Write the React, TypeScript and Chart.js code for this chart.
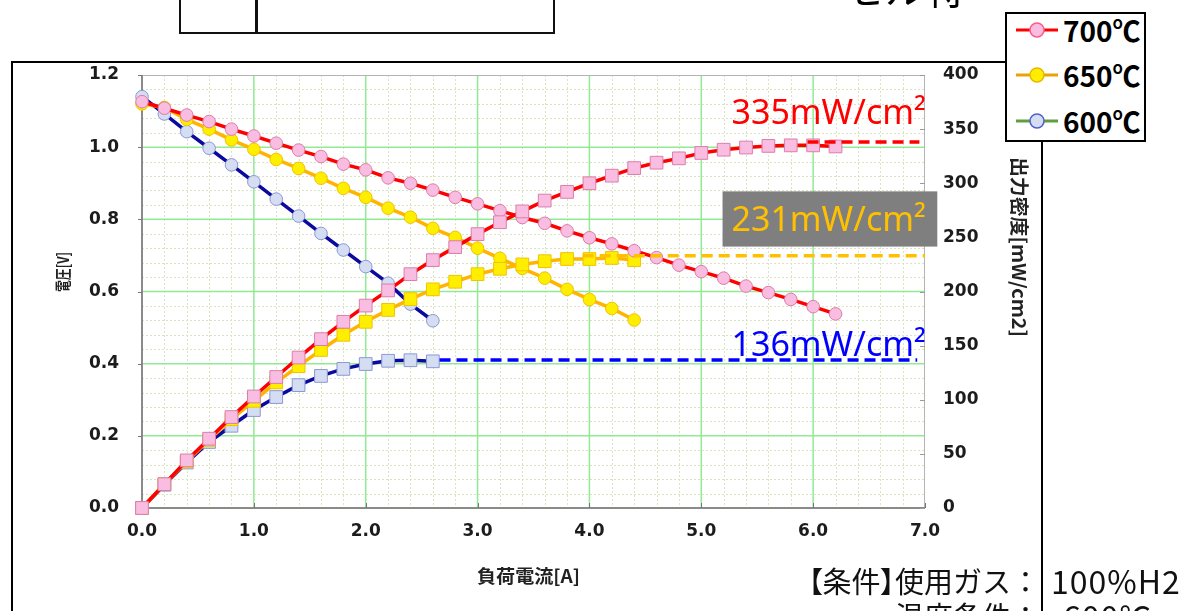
import React, { useEffect, useRef } from "react";
import { Chart, registerables } from "chart.js";

Chart.register(...registerables);

// ---------- data ----------
const current700 = [0.0, 0.2, 0.4, 0.6, 0.8, 1.0, 1.2, 1.4, 1.6, 1.8, 2.0, 2.2, 2.4, 2.6, 2.8, 3.0, 3.2, 3.4, 3.6, 3.8, 4.0, 4.2, 4.4, 4.6, 4.8, 5.0, 5.2, 5.4, 5.6, 5.8, 6.0, 6.2];
const voltage700 = [1.126, 1.108, 1.089, 1.071, 1.050, 1.031, 1.011, 0.992, 0.974, 0.953, 0.937, 0.915, 0.900, 0.881, 0.861, 0.843, 0.824, 0.805, 0.789, 0.768, 0.749, 0.732, 0.713, 0.694, 0.673, 0.655, 0.637, 0.615, 0.597, 0.578, 0.558, 0.538];
const power700 = [0, 22, 44, 64, 84, 103, 121, 139, 156, 172, 187, 201, 216, 229, 241, 253, 264, 274, 284, 292, 300, 307, 314, 319, 323, 328, 331, 333, 334.5, 335, 335, 334];

const current650 = [0.0, 0.2, 0.4, 0.6, 0.8, 1.0, 1.2, 1.4, 1.6, 1.8, 2.0, 2.2, 2.4, 2.6, 2.8, 3.0, 3.2, 3.4, 3.6, 3.8, 4.0, 4.2, 4.4];
const voltage650 = [1.120, 1.110, 1.077, 1.050, 1.020, 0.994, 0.966, 0.941, 0.914, 0.886, 0.861, 0.831, 0.806, 0.775, 0.750, 0.720, 0.692, 0.664, 0.637, 0.606, 0.578, 0.553, 0.521];
const power650 = [0, 22, 43, 63, 82, 99, 116, 131, 146, 160, 172, 183, 193, 202, 209, 216, 221, 225, 228, 230, 230, 231, 229];

const current600 = [0.0, 0.2, 0.4, 0.6, 0.8, 1.0, 1.2, 1.4, 1.6, 1.8, 2.0, 2.2, 2.4, 2.6];
const voltage600 = [1.140, 1.092, 1.043, 0.997, 0.951, 0.904, 0.856, 0.809, 0.761, 0.715, 0.669, 0.623, 0.565, 0.519];
const power600 = [0, 21.5, 42, 61, 76, 90.5, 102.5, 113.5, 122, 128.5, 133, 136, 136.5, 135.5];

// peak power guide lines and their labels
const peakLabels = ["335mW/cm²", "231mW/cm²", "136mW/cm²"];
const peakLevels = [338, 233, 136.7];
const peakLineFrom = [5.95, 3.94, 2.66];
const peakLineTo = [6.95, 7.0, 6.93];

const legendLabels = ["700℃", "650℃", "600℃"];

const xTickValues = [0, 1, 2, 3, 4, 5, 6, 7];
const yTickValues = [0, 0.2, 0.4, 0.6, 0.8, 1.0, 1.2];
const y1TickValues = [0, 50, 100, 150, 200, 250, 300, 350, 400];

const xTitle = "負荷電流[A]";
const yTitle = "電圧[V]";
const y1Title = "出力密度[mW/cm2]";

// ---------- styles ----------
const RED = "#ff0000";
const ORANGE = "#ffb400";
const NAVY = "#0a0aa0";
const PINK_FILL = "#f8bde0";
const PINK_EDGE = "#dc7eaa";
const YEL_FILL = "#ffee00";
const YEL_EDGE = "#efc400";
const BLUE_FILL = "#d5ddf2";
const BLUE_EDGE = "#8c98d4";
const peakColors = ["#ff0000", "#ffc000", "#0000ff"];
const MAJOR_GRID = "#92ea92";
const MINOR_GRID = "#d9e5c2";
const TICK_FONT = { family: "'DejaVu Sans', Verdana, sans-serif", size: 17, weight: "bold" as const };
const TICK_COLOR = "#1c1c1c";

function pts(xs: number[], ys: number[]) {
  return xs.map((x, i) => ({ x, y: ys[i] }));
}

function drawText(
  ctx: CanvasRenderingContext2D,
  text: string,
  cx: number,
  cy: number,
  angle: number,
  font: string,
  length?: number
) {
  ctx.save();
  ctx.translate(cx, cy);
  ctx.rotate(angle);
  ctx.font = font;
  ctx.textAlign = "center";
  ctx.textBaseline = "middle";
  if (length) {
    const w = ctx.measureText(text).width;
    ctx.scale(length / w, 1);
  }
  ctx.fillText(text, 0, 0);
  ctx.restore();
}

const decorPlugin = {
  id: "decor",
  beforeDatasetsDraw(chart: any) {
    const { ctx, chartArea: a } = chart;
    const xs = chart.scales.x;
    const ys = chart.scales.y;
    const y1s = chart.scales.y1;
    const line = (x1: number, y1: number, x2: number, y2: number) => {
      ctx.beginPath();
      ctx.moveTo(x1, y1);
      ctx.lineTo(x2, y2);
      ctx.stroke();
    };
    ctx.save();
    ctx.fillStyle = "#ffffff";
    ctx.fillRect(a.left, a.top, a.width, a.height);
    // minor grid
    ctx.setLineDash([2, 2]);
    ctx.lineWidth = 1;
    ctx.strokeStyle = MINOR_GRID;
    for (let i = 1; i < 35; i++) {
      if (i % 5 === 0) continue;
      const px = Math.round(xs.getPixelForValue(i * 0.2)) + 0.5;
      line(px, a.top, px, a.bottom);
    }
    for (let i = 1; i < 30; i++) {
      if (i % 5 === 0) continue;
      const py = Math.round(ys.getPixelForValue(i * 0.04)) + 0.5;
      line(a.left, py, a.right, py);
    }
    // major grid
    ctx.setLineDash([]);
    ctx.lineWidth = 1.5;
    ctx.strokeStyle = MAJOR_GRID;
    for (let i = 1; i < 7; i++) {
      const px = xs.getPixelForValue(i);
      line(px, a.top, px, a.bottom);
    }
    for (let i = 1; i < 6; i++) {
      const py = ys.getPixelForValue(i * 0.2);
      line(a.left, py, a.right, py);
    }
    // plot border
    ctx.lineWidth = 1;
    ctx.strokeStyle = "#b4b4b4";
    ctx.strokeRect(a.left + 0.5, a.top + 0.5, a.width - 1, a.height - 1);
    // axis lines
    ctx.lineWidth = 2;
    ctx.strokeStyle = "#8a8a8a";
    line(a.left, a.top, a.left, a.bottom + 1);
    line(a.left - 1, a.bottom, a.right, a.bottom);
    // tick marks
    ctx.lineWidth = 1;
    ctx.strokeStyle = "#777";
    for (const v of yTickValues) {
      const py = Math.round(ys.getPixelForValue(v)) + 0.5;
      line(a.left - 4, py, a.left, py);
    }
    for (const v of xTickValues) {
      const px = Math.round(xs.getPixelForValue(v)) + 0.5;
      line(px, a.bottom, px, a.bottom - 5);
    }
    ctx.strokeStyle = "#9a9a9a";
    for (const v of y1TickValues) {
      const py = Math.round(y1s.getPixelForValue(v)) + 0.5;
      line(a.right - 5, py, a.right, py);
    }
    ctx.restore();
  },
  afterDatasetsDraw(chart: any) {
    const { ctx } = chart;
    const xs = chart.scales.x;
    const y1s = chart.scales.y1;
    ctx.save();
    // grey box behind the 650 label
    const bx0 = xs.getPixelForValue(5.19);
    const bx1 = xs.getPixelForValue(7.11);
    const by0 = y1s.getPixelForValue(292.5);
    const by1 = y1s.getPixelForValue(241.5);
    ctx.fillStyle = "#7f7f7f";
    ctx.fillRect(bx0, by0, bx1 - bx0, by1 - by0);
    ctx.font = "34px 'Noto Sans', 'DejaVu Sans', sans-serif";
    ctx.textAlign = "left";
    ctx.textBaseline = "alphabetic";
    const labelBase = [354.5, 255.5, 140.5];
    peakLabels.forEach((t, i) => {
      ctx.fillStyle = peakColors[i];
      ctx.fillText(t, xs.getPixelForValue(5.27), y1s.getPixelForValue(labelBase[i]));
    });
    ctx.restore();
  },
  afterDraw(chart: any) {
    const { ctx, chartArea: a } = chart;
    ctx.save();
    ctx.fillStyle = "#222";
    const cjk = "'Noto Sans CJK JP', 'Noto Sans', sans-serif";
    drawText(ctx, yTitle, 63, 272, -Math.PI / 2, `bold 16px ${cjk}`, 40);
    drawText(ctx, y1Title, 1019, 247, Math.PI / 2, `bold 19px ${cjk}`, 180);
    drawText(ctx, xTitle, (a.left + a.right) / 2 - 5, 576, 0, `bold 18px ${cjk}`, 103);
    // cut-off slide heading at the top edge
    ctx.fillStyle = "#000";
    ctx.font = `40px ${cjk}`;
    ctx.textAlign = "left";
    ctx.textBaseline = "alphabetic";
    ctx.fillText("セル特", 845, 4);
    ctx.restore();
  },
};

function LegendMark({ line, fill, edge }: { line: string; fill: string; edge: string }) {
  return (
    <svg width={44} height={20} style={{ display: "block" }}>
      <line x1={1} y1={10} x2={43} y2={10} stroke={line} strokeWidth={3} />
      <circle cx={22} cy={10} r={7} fill={fill} stroke={edge} strokeWidth={1.5} />
    </svg>
  );
}

export default function App() {
  const ref = useRef<HTMLCanvasElement>(null);

  useEffect(() => {
    const canvas = ref.current;
    if (!canvas) return;
    const guide = (i: number) => ({
      label: "peak " + peakLabels[i],
      data: pts([peakLineFrom[i], peakLineTo[i]], [peakLevels[i], peakLevels[i]]),
      yAxisID: "y1",
      borderColor: peakColors[i],
      borderWidth: 3.5,
      borderDash: [11, 6],
      pointRadius: 0,
      order: 0,
    });
    const vSeries = (label: string, xs: number[], ys: number[], line: string, fill: string, edge: string, order: number) => ({
      label,
      data: pts(xs, ys),
      yAxisID: "y",
      borderColor: line,
      borderWidth: 3.5,
      pointStyle: "circle",
      pointRadius: 6.3,
      pointBackgroundColor: fill,
      pointBorderColor: edge,
      pointBorderWidth: 1,
      clip: false,
      order,
    });
    const pSeries = (label: string, xs: number[], ys: number[], line: string, fill: string, edge: string, order: number) => ({
      label,
      data: pts(xs, ys),
      yAxisID: "y1",
      borderColor: line,
      borderWidth: 3.5,
      pointStyle: "rect",
      pointRadius: 9,
      pointBackgroundColor: fill,
      pointBorderColor: edge,
      pointBorderWidth: 1,
      clip: false,
      order,
    });

    const chart = new Chart(canvas, {
      type: "line",
      data: {
        datasets: [
          guide(0),
          guide(1),
          guide(2),
          pSeries("700℃ 出力密度", current700, power700, RED, PINK_FILL, PINK_EDGE, 1),
          vSeries("700℃ 電圧", current700, voltage700, RED, PINK_FILL, PINK_EDGE, 2),
          pSeries("650℃ 出力密度", current650, power650, ORANGE, YEL_FILL, YEL_EDGE, 3),
          vSeries("650℃ 電圧", current650, voltage650, ORANGE, YEL_FILL, YEL_EDGE, 4),
          pSeries("600℃ 出力密度", current600, power600, NAVY, BLUE_FILL, BLUE_EDGE, 5),
          vSeries("600℃ 電圧", current600, voltage600, NAVY, BLUE_FILL, BLUE_EDGE, 6),
        ] as any,
      },
      options: {
        responsive: false,
        devicePixelRatio: 1,
        animation: false,
        layout: { padding: { left: 0, right: 0, top: 75, bottom: 0 } },
        plugins: { legend: { display: false }, tooltip: { enabled: false } },
        scales: {
          x: {
            type: "linear",
            min: 0,
            max: 7,
            afterBuildTicks: (s: any) => {
              s.ticks = xTickValues.map((v) => ({ value: v }));
            },
            afterFit: (s: any) => {
              s.height = 103;
            },
            grid: { display: false, drawTicks: false },
            border: { display: false },
            ticks: {
              padding: 13,
              font: TICK_FONT,
              color: TICK_COLOR,
              maxRotation: 0,
              callback: (v: any) => Number(v).toFixed(1),
            },
          },
          y: {
            type: "linear",
            position: "left",
            min: 0,
            max: 1.2,
            afterBuildTicks: (s: any) => {
              s.ticks = yTickValues.map((v) => ({ value: v }));
            },
            afterFit: (s: any) => {
              s.width = 142;
            },
            grid: { display: false, drawTicks: false },
            border: { display: false },
            ticks: {
              padding: 23,
              font: TICK_FONT,
              color: TICK_COLOR,
              callback: (v: any) => Number(v).toFixed(1),
            },
          },
          y1: {
            type: "linear",
            position: "right",
            min: 0,
            max: 400,
            afterBuildTicks: (s: any) => {
              s.ticks = y1TickValues.map((v) => ({ value: v }));
            },
            afterFit: (s: any) => {
              s.width = 266;
            },
            grid: { display: false, drawTicks: false },
            border: { display: false },
            ticks: {
              padding: 18,
              font: TICK_FONT,
              color: TICK_COLOR,
              callback: (v: any) => String(Math.round(Number(v))),
            },
          },
        },
      },
      plugins: [decorPlugin],
    });
    return () => chart.destroy();
  }, []);

  const legendStyles = [
    { line: "#ff0000", fill: PINK_FILL, edge: "#ff5a8a" },
    { line: "#e8a400", fill: "#ffee00", edge: "#e8b800" },
    { line: "#5f9f3f", fill: BLUE_FILL, edge: "#4f5fd0" },
  ];
  const legendCenters = [16, 61, 107];
  const cjk = "'Noto Sans CJK JP', 'Noto Sans', sans-serif";
  const palt = { fontFeatureSettings: '"palt"' };

  return (
    <div style={{ position: "absolute", left: 0, top: 0, width: 1191, height: 611, overflow: "hidden", background: "#fff" }}>
      <canvas ref={ref} width={1191} height={611} style={{ position: "absolute", left: 0, top: 0, width: 1191, height: 611 }} />
      {/* top box */}
      <div style={{ position: "absolute", left: 179, top: -4, width: 372, height: 34, border: "2px solid #111" }} />
      <div style={{ position: "absolute", left: 255, top: -4, width: 3, height: 38, background: "#111" }} />
      {/* chart frame */}
      <div style={{ position: "absolute", left: 11, top: 61, width: 2, height: 560, background: "#000" }} />
      <div style={{ position: "absolute", left: 11, top: 61, width: 996, height: 2, background: "#000" }} />
      <div style={{ position: "absolute", left: 1041, top: 140, width: 2, height: 480, background: "#000" }} />
      {/* legend */}
      <div
        style={{
          position: "absolute",
          left: 1005,
          top: 12,
          width: 137,
          height: 126,
          border: "2px solid #000",
          background: "#fff",
          overflow: "hidden",
        }}
      >
        {legendLabels.map((t, i) => (
          <div
            key={t}
            style={{
              position: "absolute",
              left: 8,
              top: legendCenters[i] - 18,
              height: 36,
              display: "flex",
              alignItems: "center",
              whiteSpace: "nowrap",
            }}
          >
            <LegendMark {...legendStyles[i]} />
            <span style={{ marginLeft: 4, font: `bold 28px ${cjk}`, lineHeight: "36px", color: "#000" }}>{t}</span>
          </div>
        ))}
      </div>
      {/* conditions */}
      <div style={{ position: "absolute", right: 1191 - 1040, top: 566, font: `29px ${cjk}`, lineHeight: "29px", color: "#111", whiteSpace: "nowrap" }}>
        <span style={palt}>【</span>条件<span style={palt}>】</span>使用ガス：
      </div>
      <div style={{ position: "absolute", left: 1051, top: 564, font: `32px ${cjk}`, lineHeight: "32px", letterSpacing: 1, color: "#111", whiteSpace: "nowrap" }}>
        100%H2
      </div>
      <div style={{ position: "absolute", right: 1191 - 1040, top: 601, font: `29px ${cjk}`, lineHeight: "29px", color: "#111", whiteSpace: "nowrap" }}>
        温度条件：
      </div>
      <div style={{ position: "absolute", left: 1063, top: 600, font: `32px ${cjk}`, lineHeight: "32px", letterSpacing: 1, color: "#111", whiteSpace: "nowrap" }}>
        600℃
      </div>
    </div>
  );
}
